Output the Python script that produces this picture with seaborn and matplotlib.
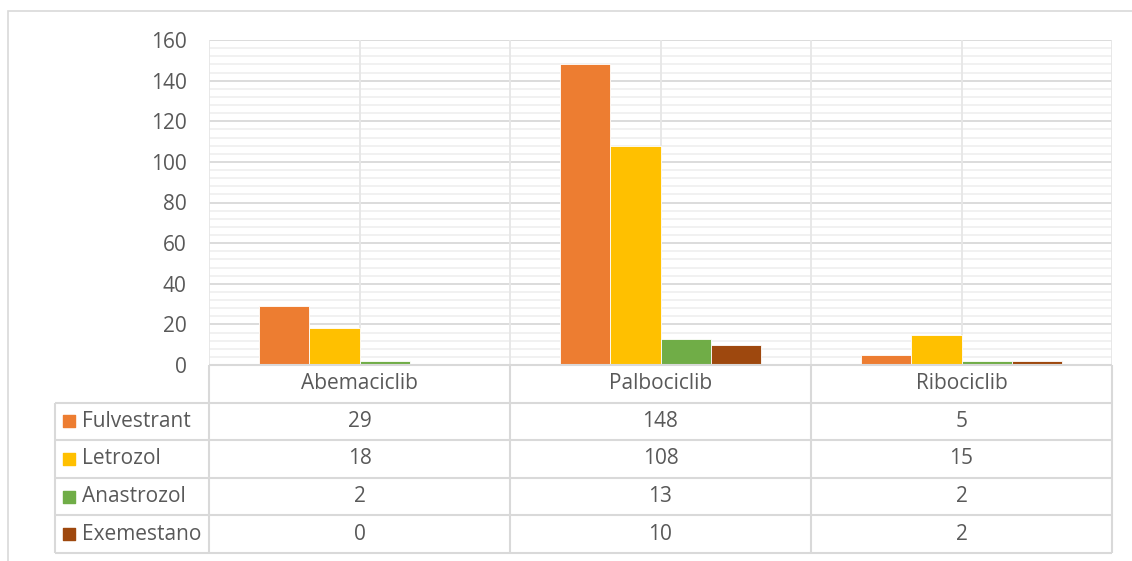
import numpy as np
import pandas as pd
import seaborn as sns
import matplotlib.pyplot as plt
from matplotlib.patches import Rectangle

drugs = ['Abemaciclib', 'Palbociclib', 'Ribociclib']
therapies = ['Fulvestrant', 'Letrozol', 'Anastrozol', 'Exemestano']
fulvestrant = [29, 148, 5]
letrozol = [18, 108, 15]
anastrozol = [2, 13, 2]
exemestano = [0, 10, 2]
colors = ['#ED7D31', '#FFC000', '#70AD47', '#9E480E']

values = [fulvestrant, letrozol, anastrozol, exemestano]
df = pd.DataFrame({
    'drug': np.tile(drugs, len(therapies)),
    'therapy': np.repeat(therapies, len(drugs)),
    'count': np.concatenate(values),
})

sns.set_style('white')
plt.rcParams['font.family'] = ['Open Sans', 'DejaVu Sans']
txt = '#595959'
grid_major = '#D9D9D9'
grid_minor = '#F0F0F0'
fs = 15

W, H = 1132, 561
fig = plt.figure(figsize=(W / 100, H / 100), dpi=100)

# outer chart border
fig.patches.append(Rectangle((8 / W, -0.1), 1.2, 1 - 11 / H + 0.1, transform=fig.transFigure,
                             fill=False, edgecolor=grid_major, lw=1.2))

ax = fig.add_axes([209 / W, 1 - 365 / H, (1112 - 209) / W, (365 - 40) / H])
sns.barplot(data=df, x='drug', y='count', hue='therapy', order=drugs, hue_order=therapies,
            palette=colors, saturation=1, width=0.667, edgecolor='white', linewidth=0.6,
            legend=False, ax=ax, zorder=3)
ax.set_xlim(-0.5, 2.5)
ax.set_ylim(0, 160)
ax.set_yticks(range(0, 161, 20))
ax.set_yticks(range(0, 161, 4), minor=True)
ax.grid(which='minor', axis='y', color=grid_minor, lw=1.3, zorder=0)
ax.grid(which='major', axis='y', color=grid_major, lw=1.3, zorder=1)
ax.vlines(np.arange(-0.5, 2.6, 0.5), 0, 160, color='#E6E6E6', lw=1.3, zorder=1)
for s in ax.spines.values():
    s.set_visible(False)
ax.set_xticks([])
ax.set_xlabel('')
ax.set_ylabel('')
ax.tick_params(axis='y', which='both', length=0, labelsize=fs, labelcolor=txt, pad=16)

# data table below the chart
x0 = -0.5 - 154 / 301
tax = fig.add_axes([55 / W, 1 - 553 / H, (1112 - 55) / W, 188 / H])
tax.set_xlim(x0, 2.5)
tax.set_ylim(5, 0)
tax.axis('off')
lc = dict(color=grid_major, lw=1.5, clip_on=False)
tax.hlines(0, -0.5, 2.5, **lc)
tax.hlines(np.arange(1, 6), x0, 2.5, **lc)
tax.vlines(np.arange(-0.5, 2.6, 1), 0, 5, **lc)
tax.vlines(x0, 1, 5, **lc)

for i, d in enumerate(drugs):
    tax.text(i, 0.5, d, ha='center', va='center', fontsize=fs, color=txt)
for j, (name, vals, c) in enumerate(zip(therapies, values, colors)):
    y = j + 1.5
    tax.scatter([x0 + 14 / 301], [y], marker='s', s=80, color=c, clip_on=False)
    tax.text(x0 + 27 / 301, y, name, ha='left', va='center', fontsize=fs, color=txt)
    for i, v in enumerate(vals):
        tax.text(i, y, str(v), ha='center', va='center', fontsize=fs, color=txt)

fig.savefig('out.png', dpi=100)
